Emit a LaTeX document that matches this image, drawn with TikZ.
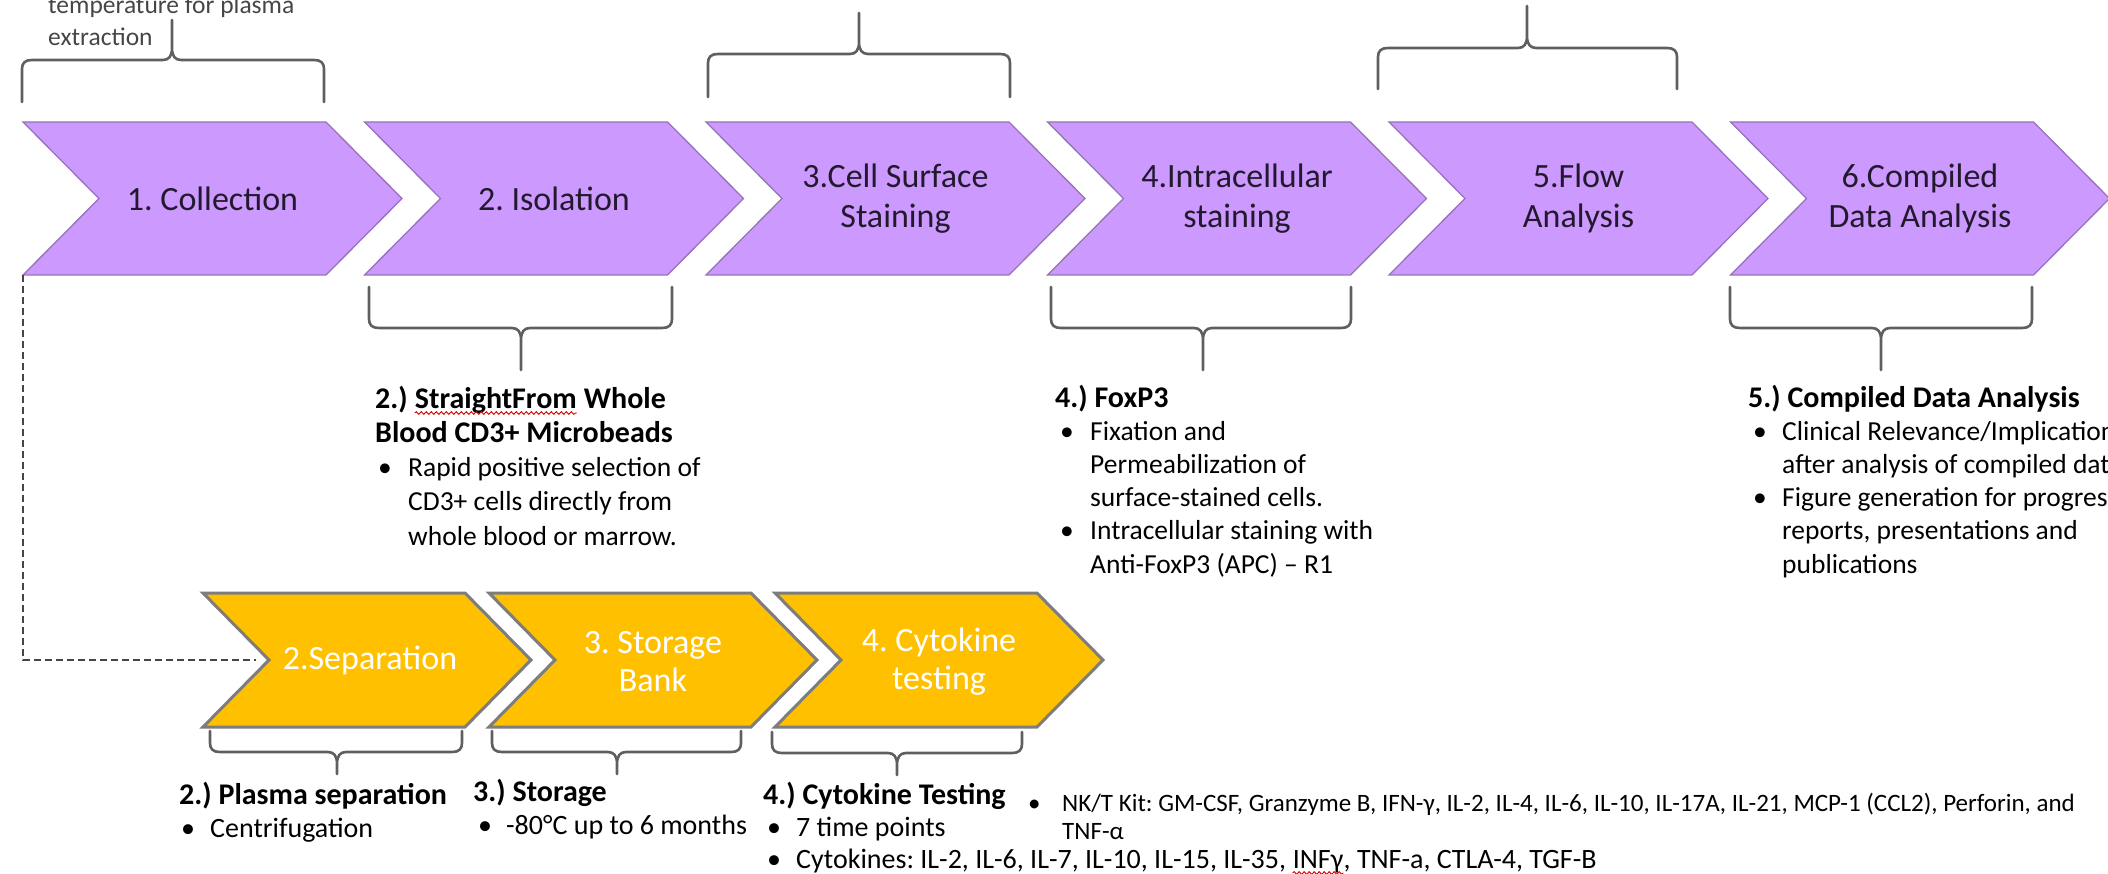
\documentclass[tikz,border=0pt]{standalone}
\usepackage{fontspec}
\setmainfont{Carlito}
\usetikzlibrary{decorations.pathmorphing}
\definecolor{purp}{RGB}{204,153,255}
\definecolor{purpedge}{RGB}{150,115,185}
\definecolor{gold}{RGB}{255,192,0}
\definecolor{goldedge}{RGB}{125,125,125}
\definecolor{bracecol}{RGB}{95,95,95}
\definecolor{labcol}{RGB}{35,25,45}
\definecolor{notegray}{RGB}{70,70,70}
\definecolor{dashcol}{RGB}{70,70,70}

% chevron: #1 left x, #2 top y, #3 bottom y, #4 total width, #5 point depth, #6 style
\newcommand{\chevpath}[6]{%
  \path[#6] (#1,#2) -- ({#1+#4-#5},#2) -- ({#1+#4},{(#2+#3)/2}) -- ({#1+#4-#5},#3)
    -- (#1,#3) -- ({#1+#5},{(#2+#3)/2}) -- cycle;}
% brace: #1 x1, #2 x2, #3 tip x, #4 arm end y, #5 bar y, #6 tip y, #7 sign (+1 arms below bar, -1 arms above bar)
\newcommand{\bracepath}[7]{%
  \draw[bracestyle] (#1,#4) -- (#1,{#5+(#7)*9}) .. controls (#1,{#5+(#7)*3}) and ({#1+3},#5) .. ({#1+10},#5)
    -- ({#3-9},#5) .. controls ({#3-3},#5) and (#3,{#5-(#7)*4}) .. (#3,{#5-(#7)*12}) -- (#3,#6)
    -- (#3,{#5-(#7)*12}) .. controls (#3,{#5-(#7)*4}) and ({#3+3},#5) .. ({#3+9},#5)
    -- ({#2-10},#5) .. controls ({#2-3},#5) and (#2,{#5+(#7)*3}) .. (#2,{#5+(#7)*9}) -- (#2,#4);}
\newcommand{\headfont}{\fontsize{30}{34}\selectfont\bfseries}

\begin{document}
\frenchspacing
\begin{tikzpicture}[x=1pt,y=-1pt,
  purpchev/.style={fill=purp,draw=purpedge,line width=1.3pt,line join=miter},
  goldchev/.style={fill=gold,draw=goldedge,line width=3pt,line join=miter},
  chevlab/.style={font=\fontsize{34}{40}\selectfont,text=labcol,align=center,inner sep=0pt},
  goldlab/.style={font=\fontsize{34}{38}\selectfont,text=white,align=center,inner sep=0pt},
  bracestyle/.style={draw=bracecol,line width=2.6pt,line join=round,line cap=round},
  blocktext/.style={anchor=base west,inner sep=0pt,text=black},
  headtext/.style={anchor=base west,inner sep=0pt,text=black,font=\headfont},
  dashline/.style={draw=dashcol,line width=2pt,dash pattern=on 7pt off 4pt},
  squiggle/.style={draw=red!85!black,line width=0.9pt,decorate,decoration={snake,amplitude=1.3pt,segment length=5pt}}
]
\useasboundingbox (0,0) rectangle (2108,874);

% ---------- top purple chevrons ----------
\chevpath{23}{122}{275}{379}{76}{purpchev}
\chevpath{364.5}{122}{275}{379}{76}{purpchev}
\chevpath{706}{122}{275}{379}{76}{purpchev}
\chevpath{1047.5}{122}{275}{379}{76}{purpchev}
\chevpath{1389}{122}{275}{379}{76}{purpchev}
\chevpath{1730.5}{122}{275}{379}{76}{purpchev}
\node[chevlab] (c1) at (212.5,198.5) {1. Collection};
\node[chevlab] (c2) at (554,198.5) {2. Isolation};
\node[chevlab] (c3) at (895.5,198.5) {3.Cell Surface\\Staining};
\node[chevlab] (c4) at (1237,198.5) {4.Intracellular\\staining};
\node[chevlab] (c5) at (1578.5,198.5) {5.Flow\\Analysis};
\node[chevlab] (c6) at (1920,198.5) {6.Compiled\\Data Analysis};

% ---------- bottom gold chevrons ----------
\chevpath{203}{593}{727}{328}{66}{goldchev}
\chevpath{489}{593}{727}{328}{66}{goldchev}
\chevpath{775}{593}{727}{328}{66}{goldchev}
\node[goldlab] (y1) at (370,660) {2.Separation};
\node[goldlab] (y2) at (653,662) {3. Storage\\Bank};
\node[goldlab] (y3) at (939,662) {4. Cytokine\\testing};

% ---------- dashed connector ----------
\coordinate (c1sw) at (23,275);
\coordinate (y1in) at (269,660);
\draw[dashline,shorten >=13pt] (c1sw) |- (y1in);

% ---------- braces above ----------
\bracepath{22}{324}{172}{102}{60}{20}{1}
\bracepath{708}{1010}{859}{97}{54}{13}{1}
\bracepath{1378}{1677}{1527}{89}{48}{6}{1}
% ---------- braces below top chevrons ----------
\bracepath{369}{672}{521}{287}{328}{370}{-1}
\bracepath{1051}{1351}{1203}{287}{328}{370}{-1}
\bracepath{1730}{2032}{1881}{287}{328}{370}{-1}
% ---------- braces below gold chevrons ----------
\bracepath{210}{462}{337}{731}{752}{774}{-1}
\bracepath{492}{741}{617}{731}{752}{774}{-1}
\bracepath{772}{1022}{897}{732}{753}{775}{-1}

% ---------- note at top left ----------
\node[blocktext,text=notegray,font=\fontsize{25.5}{32}\selectfont] (note1) at (48,14)
  {\parbox[t]{400pt}{\raggedright temperature for plasma\\extraction}};

% ---------- text blocks ----------
\node[headtext] (t2a) at (375,408) {2.)};
\node[headtext] (t2b) at ([xshift=6.8pt]t2a.base east) {StraightFrom};
\node[headtext] (t2c) at ([xshift=6.8pt]t2b.base east) {Whole};
\draw[squiggle] ([yshift=-5pt]t2b.base west) -- ([yshift=-5pt]t2b.base east);
\node[blocktext,font=\fontsize{27.5}{34.25}\selectfont] (t2) at (375,442.25)
  {\parbox[t]{420pt}{\raggedright{\headfont Blood CD3+ Microbeads}\\
   \hspace*{3pt}\makebox[30pt][l]{•}Rapid positive selection of\\
   \hspace*{33pt}CD3+ cells directly from\\
   \hspace*{33pt}whole blood or marrow.}};

\node[blocktext,font=\fontsize{27.5}{33.2}\selectfont] (t4) at (1055,407)
  {\parbox[t]{420pt}{\raggedright{\headfont 4.) FoxP3}\\
   \hspace*{5pt}\makebox[30pt][l]{•}Fixation and\\
   \hspace*{35pt}Permeabilization of\\
   \hspace*{35pt}surface-stained cells.\\
   \hspace*{5pt}\makebox[30pt][l]{•}Intracellular staining with\\
   \hspace*{35pt}Anti-FoxP3 (APC) – R1}};

\node[blocktext,font=\fontsize{27.5}{33.2}\selectfont] (t6) at (1748,407)
  {\parbox[t]{420pt}{\raggedright{\headfont 5.) Compiled Data Analysis}\\
   \hspace*{5pt}\makebox[29pt][l]{•}Clinical Relevance/Implications\\
   \hspace*{34pt}after analysis of compiled data\\
   \hspace*{5pt}\makebox[29pt][l]{•}Figure generation for progress\\
   \hspace*{34pt}reports, presentations and\\
   \hspace*{34pt}publications}};

\node[blocktext,font=\fontsize{28}{33}\selectfont] (b2) at (179,804)
  {\parbox[t]{300pt}{\raggedright{\headfont 2.) Plasma separation}\\
   \hspace*{2pt}\makebox[29pt][l]{•}Centrifugation}};

\node[blocktext,font=\fontsize{28}{33}\selectfont] (b3) at (473,801)
  {\parbox[t]{300pt}{\raggedright{\headfont 3.) Storage}\\
   \hspace*{5pt}\makebox[28pt][l]{•}-80°C up to 6 months}};

\node[blocktext,font=\fontsize{28}{32}\selectfont] (b4) at (763,804)
  {\parbox[t]{300pt}{\raggedright{\headfont 4.) Cytokine Testing}\\
   \hspace*{4pt}\makebox[29pt][l]{•}7 time points}};
\node[blocktext,font=\fontsize{28}{32}\selectfont] (cyta) at (767,868)
  {\makebox[29pt][l]{•}Cytokines: IL-2, IL-6, IL-7, IL-10, IL-15, IL-35,};
\node[blocktext,font=\fontsize{28}{32}\selectfont] (cytb) at ([xshift=6.3pt]cyta.base east) {INFγ};
\node[blocktext,font=\fontsize{28}{32}\selectfont] (cytc) at (cytb.base east) {, TNF-a, CTLA-4, TGF-B};
\draw[squiggle] ([yshift=-5pt]cytb.base west) -- ([yshift=-5pt]cytb.base east);

\node[blocktext,font=\fontsize{25}{28}\selectfont] (nk) at (1028,811)
  {\parbox[t]{1100pt}{\raggedright\makebox[34pt][l]{•}NK/T Kit: GM-CSF, Granzyme B, IFN-γ, IL-2, IL-4, IL-6, IL-10, IL-17A, IL-21, MCP-1 (CCL2), Perforin, and\\
   \hspace*{34pt}TNF-α}};
\end{tikzpicture}
\end{document}
